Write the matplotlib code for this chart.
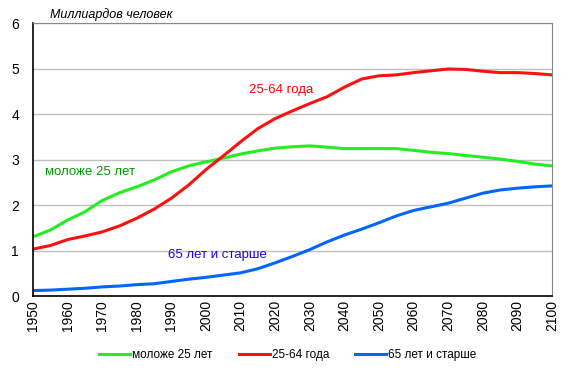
import matplotlib.pyplot as plt

plt.rcParams['font.family'] = ['Liberation Sans', 'DejaVu Sans']

# Данные: население мира по возрастным группам, млрд человек
anios = list(range(1950, 2101, 5))
moloje25 = [1.30, 1.45, 1.67, 1.85, 2.10, 2.27, 2.40, 2.55, 2.73, 2.86, 2.95, 3.03,
            3.12, 3.19, 3.25, 3.28, 3.30, 3.27, 3.24, 3.24, 3.24, 3.24, 3.20, 3.16,
            3.13, 3.09, 3.05, 3.01, 2.96, 2.90, 2.86]
vozr25_64 = [1.03, 1.11, 1.24, 1.32, 1.41, 1.54, 1.71, 1.91, 2.15, 2.44, 2.78, 3.08,
             3.39, 3.68, 3.90, 4.07, 4.23, 4.38, 4.59, 4.77, 4.84, 4.86, 4.91, 4.95,
             4.99, 4.98, 4.94, 4.91, 4.91, 4.89, 4.86]
starshe65 = [0.12, 0.13, 0.15, 0.17, 0.20, 0.22, 0.25, 0.27, 0.32, 0.37, 0.41, 0.46,
             0.51, 0.60, 0.73, 0.87, 1.02, 1.19, 1.34, 1.47, 1.61, 1.76, 1.88, 1.96,
             2.04, 2.15, 2.26, 2.33, 2.37, 2.40, 2.42]

fig = plt.figure(figsize=(5.76, 3.73), dpi=100)
ax = fig.add_axes([0.0573, 0.2064, 0.9010, 0.7319])

ax.plot(anios, moloje25, color="#22ee22", linewidth=2.2, label="моложе 25 лет")
ax.plot(anios, vozr25_64, color="#ff1010", linewidth=2.2, label="25-64 года")
ax.plot(anios, starshe65, color="#0066ff", linewidth=2.2, label="65 лет и старше")

ax.set_xlim(1950, 2100)
ax.set_ylim(0, 6)
ax.set_xticks(range(1950, 2101, 10))
ax.set_xticklabels([str(a) for a in range(1950, 2101, 10)], rotation=90, fontsize=10)
ax.set_yticks(range(0, 7))
ax.tick_params(axis="y", labelsize=10, length=0, pad=10)
ax.tick_params(axis="x", length=0, pad=3)
ax.grid(axis="y", color="#c0c0c0", linewidth=1)
ax.set_axisbelow(True)
ax.spines["top"].set_color("#888888")
ax.spines["right"].set_color("#888888")
ax.spines["left"].set_linewidth(1.2)
ax.spines["bottom"].set_linewidth(1.2)

fig.text(50 / 576, 1 - 15 / 373, "Миллиардов человек", fontsize=9, style="italic",
         va="center", ha="left")
ax.text(1953.5, 2.72, "моложе 25 лет", color="#009900", fontsize=9.5, va="center")
ax.text(2012.5, 4.53, "25-64 года", color="#ff0000", fontsize=9.5, va="center")
ax.text(1989, 0.9, "65 лет и старше", color="#2200ee", fontsize=9.5, va="center")

fig.legend(loc="center", bbox_to_anchor=(0.5, 1 - 355 / 373), ncol=3, frameon=False,
           fontsize=8.5, handlelength=2.6, handletextpad=0.2, columnspacing=2.2)

fig.savefig("out.png", dpi=100)
